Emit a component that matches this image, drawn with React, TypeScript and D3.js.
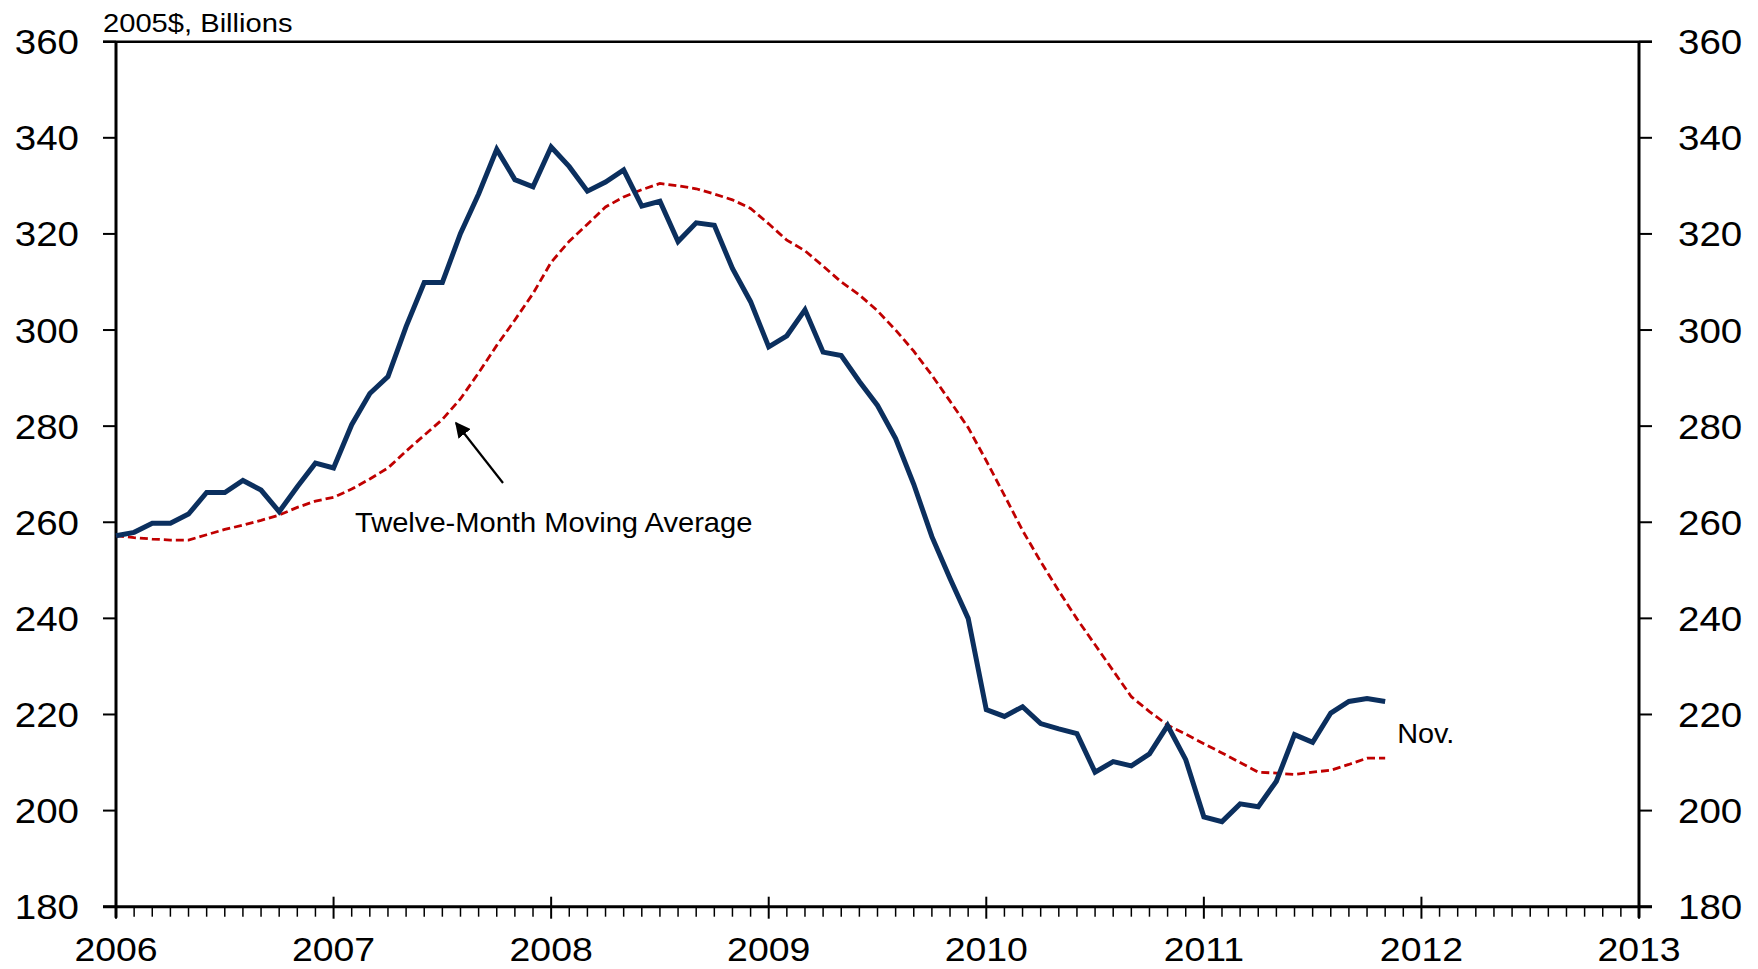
import React from "react";
import * as d3 from "d3";

// monthly series, Jan 2006 .. Nov 2011 (2005$, billions)
const actual = [
  257.2, 257.9, 259.8, 259.8, 261.7, 266.2, 266.2, 268.7, 266.7, 262.2, 267.4, 272.3,
  271.3, 280.3, 286.8, 290.3, 300.7, 309.9, 309.9, 320.1, 328.3, 337.6, 331.3, 329.8,
  338.1, 334.0, 328.9, 330.8, 333.3, 325.8, 326.8, 318.4, 322.3, 321.8, 312.8, 305.9,
  296.5, 298.8, 304.2, 295.4, 294.7, 289.3, 284.3, 277.4, 267.9, 257.0, 248.3, 240.0,
  221.0, 219.6, 221.6, 218.1, 217.0, 216.0, 208.0, 210.2, 209.3, 211.8, 217.7, 210.6,
  198.7, 197.7, 201.4, 200.8, 206.1, 215.8, 214.2, 220.3, 222.7, 223.3, 222.7,
];
const movingAvg = [
  257.2, 256.8, 256.5, 256.3, 256.3, 257.4, 258.5, 259.4, 260.4, 261.5, 263.1, 264.4,
  265.2, 266.9, 269.0, 271.3, 274.8, 278.1, 281.4, 285.7, 291.1, 296.8, 302.1, 307.6,
  314.1, 318.5, 322.0, 325.6, 327.7, 329.2, 330.5, 330.0, 329.4, 328.3, 327.1, 325.3,
  322.1, 318.7, 316.5, 313.3, 310.0, 307.3, 304.0, 300.0, 295.6, 290.6, 285.2, 279.7,
  272.8, 265.6, 258.3, 251.8, 245.7, 239.9, 234.5, 229.1, 223.7, 220.6, 217.8, 215.9,
  213.9, 212.0, 210.0, 208.0, 207.8, 207.5, 208.0, 208.4, 209.6, 210.9, 210.9,
];
const years = [2006, 2007, 2008, 2009, 2010, 2011, 2012, 2013];
const yTicks = [180, 200, 220, 240, 260, 280, 300, 320, 340, 360];
const unitLabel = "2005$, Billions";
const maLabel = "Twelve-Month Moving Average";
const endLabel = "Nov.";

const W = 1758, H = 969;
const left = 116, right = 1639, top = 41.7, bottom = 906.7;
const font = "'Liberation Sans', Arial, Helvetica, sans-serif";

// stretched text, the original labels are a bit wider than Arial
const T = ({ x, y, size, sx = 1.1, anchor = "start", children }: any) => (
  <text transform={`translate(${x},${y}) scale(${sx},1)`} fontSize={size} textAnchor={anchor} fontFamily={font} fill="#000">
    {children}
  </text>
);

export default function App() {
  const x = d3.scaleLinear().domain([0, (years.length - 1) * 12]).range([left, right]);
  const y = d3.scaleLinear().domain([180, 360]).range([bottom, top]);
  const line = d3.line<number>().x((_, i) => x(i)).y((d) => y(d));
  const months = d3.range(1, (years.length - 1) * 12).filter((m) => m % 12 !== 0);
  const last = actual.length - 1;

  return (
    <svg width={W} height={H} style={{ position: "absolute", left: 0, top: 0, display: "block", background: "#fff" }}>
      <defs>
        <marker id="head" viewBox="0 0 10 10" refX="9" refY="5" markerWidth="7" markerHeight="7" orient="auto">
          <path d="M0,0 L10,5 L0,10 z" fill="#000" />
        </marker>
      </defs>

      {/* frame */}
      <line x1={left - 13} x2={right + 13} y1={top} y2={top} stroke="#000" strokeWidth={2.5} />
      <line x1={left - 13} x2={right + 13} y1={bottom} y2={bottom} stroke="#000" strokeWidth={3} />
      <line x1={left} x2={left} y1={top} y2={bottom + 11} stroke="#000" strokeWidth={3} />
      <line x1={right} x2={right} y1={top} y2={bottom + 11} stroke="#000" strokeWidth={3} />

      {/* y ticks + labels both sides */}
      {yTicks.map((t) => (
        <g key={t}>
          <line x1={left - 13} x2={left} y1={y(t)} y2={y(t)} stroke="#000" strokeWidth={2} />
          <line x1={right} x2={right + 13} y1={y(t)} y2={y(t)} stroke="#000" strokeWidth={2} />
          <T x={79} y={y(t) + 12.5} size={35} anchor="end">{t}</T>
          <T x={1678} y={y(t) + 12.5} size={35}>{t}</T>
        </g>
      ))}

      {/* x ticks */}
      {months.map((m) => (
        <line key={m} x1={x(m)} x2={x(m)} y1={bottom} y2={bottom + 10} stroke="#000" strokeWidth={1.5} />
      ))}
      {years.map((yr, i) => (
        <g key={yr}>
          <line x1={x(i * 12)} x2={x(i * 12)} y1={bottom - 10} y2={bottom + 12} stroke="#000" strokeWidth={2} />
          <T x={x(i * 12)} y={961} size={34} anchor="middle">{yr}</T>
        </g>
      ))}

      <T x={103} y={31.5} size={26.5}>{unitLabel}</T>

      {/* series */}
      <path d={line(movingAvg) || ""} fill="none" stroke="#c00000" strokeWidth={2.8} strokeDasharray="8,4" />
      <path d={line(actual) || ""} fill="none" stroke="#0b2f5e" strokeWidth={5} strokeLinejoin="miter" />

      {/* annotations */}
      <line x1={503} y1={483} x2={456} y2={423} stroke="#000" strokeWidth={2.2} markerEnd="url(#head)" />
      <T x={355} y={532} size={28} sx={1.04}>{maLabel}</T>
      <T x={x(last) + 12} y={742.5} size={28} sx={1.03}>{endLabel}</T>
    </svg>
  );
}
